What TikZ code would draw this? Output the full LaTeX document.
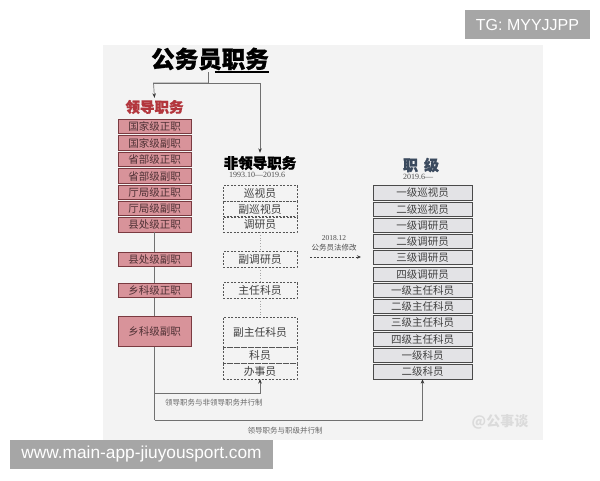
\documentclass[tikz,border=0pt]{standalone}
\usepackage{fontspec}
\newfontfamily\cjk{Noto Sans CJK SC}
\newfontfamily\wmfont{Liberation Sans}
\newfontfamily\dfont{Liberation Serif}
\usetikzlibrary{arrows.meta}
\definecolor{panel}{HTML}{F3F3F3}
\definecolor{redfill}{HTML}{D8939A}
\definecolor{redborder}{HTML}{7A3A40}
\definecolor{redtext}{HTML}{4E3034}
\definecolor{redtitle}{HTML}{B3363D}
\definecolor{slate}{HTML}{3B4A5E}
\definecolor{gfill}{HTML}{E3E3E6}
\definecolor{gborder}{HTML}{4A4A4A}
\definecolor{dashgray}{HTML}{555555}
\definecolor{conn}{HTML}{707070}
\definecolor{wmgray}{HTML}{A6A6A6}
\definecolor{smalltext}{HTML}{666666}
\newcommand\heavycjk{\cjk\bfseries\addfontfeatures{FakeBold=1.2}}
\tikzset{
  redbox/.style={draw=redborder, fill=redfill, line width=0.9pt, minimum width=73pt, minimum height=14.3pt, inner sep=0pt, outer sep=0pt, text=redtext, font=\cjk\fontsize{10.5}{12}\selectfont},
  dbox/.style={draw=dashgray, dash pattern=on 2pt off 1.5pt, line width=0.7pt, minimum width=74pt, minimum height=15.5pt, inner sep=0pt, outer sep=0pt, text=black!75, font=\cjk\fontsize{10.8}{12}\selectfont},
  gbox/.style={draw=gborder, fill=gfill, line width=1pt, minimum width=99pt, minimum height=14.3pt, inner sep=0pt, outer sep=0pt, text=black!75, font=\cjk\fontsize{10.5}{12}\selectfont},
  connline/.style={draw=conn, line width=0.7pt},
  arr/.style={connline, -{Stealth[length=4.5pt,width=3.5pt,color=black!80]}},
  dotline/.style={draw=black!35, dotted, line width=0.7pt},
  small/.style={text=smalltext, font=\cjk\fontsize{7.5}{9}\selectfont, inner sep=0pt},
  datet/.style={text=black!70, font=\dfont\fontsize{8}{9}\selectfont, inner sep=0pt},
  wmbox/.style={fill=wmgray, text=white, inner sep=0pt, font=\wmfont},
}
\begin{document}
\begin{tikzpicture}[x=1pt,y=-1pt]
\useasboundingbox (0,0) rectangle (600,480);
\fill[white] (0,0) rectangle (600,480);
\fill[panel] (103,45) rectangle (543,440);

% title
\node[inner sep=0pt, font=\heavycjk\fontsize{23.5}{26}\selectfont] (title) at (210,59) {公务员职务};
\draw[line width=1.6pt] ([xshift=-54pt,yshift=-1.5pt]title.south east) -- ([yshift=-1.5pt]title.south east);
\coordinate (tb) at (208,72);
\coordinate (tj) at (208,83);
\coordinate (tl) at (153.5,83);
\coordinate (tr) at (260,83);

% column titles
\node[inner sep=0pt, text=redtitle, font=\heavycjk\fontsize{14.5}{16}\selectfont] (ld) at (154.5,107) {领导职务};
\node[inner sep=0pt, font=\heavycjk\fontsize{14.5}{16}\selectfont] (fld) at (260,163) {非领导职务};
\node[datet] (d1) at (257,175) {1993.10—2019.6};
\node[inner sep=0pt, text=slate, font=\heavycjk\fontsize{15}{16}\selectfont] (zj) at (421,165) {职\hspace{6pt}级};
\node[datet] (d2) at (418,176.5) {2019.6—};

\draw[connline] (tb) -- (tj);
\draw[connline] (tl) -- (tr);
\draw[arr] (tj) -- (tl) -- ([yshift=2pt]ld.north);
\draw[arr] (tr) -- ([yshift=3pt]fld.north);

% leadership boxes
\node[redbox] (r7) at (154.5,225) {县处级正职};
\coordinate (lb1) at (154.5,393);
\coordinate (lb2) at (154.5,420);
\draw[connline] (r7.south) -- (lb2);

\node[redbox] (r1) at (154.5,126.5) {国家级正职};
\node[redbox] (r2) at (154.5,143) {国家级副职};
\node[redbox] (r3) at (154.5,159.5) {省部级正职};
\node[redbox] (r4) at (154.5,176) {省部级副职};
\node[redbox] (r5) at (154.5,192.3) {厅局级正职};
\node[redbox] (r6) at (154.5,208.7) {厅局级副职};
\node[redbox] (r8) at (154.5,259.3) {县处级副职};
\node[redbox] (r9) at (154.5,290.3) {乡科级正职};
\node[redbox, minimum height=30.5pt] (r10) at (154.5,331.5) {乡科级副职};

% non-leadership boxes
\node[dbox] (n1) at (260,193.4) {巡视员};
\node[dbox] (n2) at (260,209) {副巡视员};
\node[dbox] (n3) at (260,224.6) {调研员};
\node[dbox] (n4) at (260,259.5) {副调研员};
\node[dbox] (n5) at (260,290.5) {主任科员};
\node[dbox, minimum height=30pt] (n6) at (260,332) {副主任科员};
\node[dbox, minimum height=16pt] (n7) at (260,355) {科员};
\node[dbox, minimum height=16pt] (n8) at (260,371) {办事员};
\draw[dotline] (n3.south) -- (n4.north);
\draw[dotline] (n4.south) -- (n5.north);
\draw[dotline] (n5.south) -- (n6.north);

% rank boxes
\node[gbox] (g1) at (422.5,193) {一级巡视员};
\node[gbox] (g2) at (422.5,209.2) {二级巡视员};
\node[gbox] (g3) at (422.5,225.4) {一级调研员};
\node[gbox] (g4) at (422.5,241.6) {二级调研员};
\node[gbox] (g5) at (422.5,257.8) {三级调研员};
\node[gbox] (g6) at (422.5,274.2) {四级调研员};
\node[gbox] (g7) at (422.5,290.5) {一级主任科员};
\node[gbox] (g8) at (422.5,306.8) {二级主任科员};
\node[gbox] (g9) at (422.5,323) {三级主任科员};
\node[gbox] (g10) at (422.5,339.4) {四级主任科员};
\node[gbox] (g11) at (422.5,355.8) {一级科员};
\node[gbox] (g12) at (422.5,372) {二级科员};

% bottom connectors
\draw[arr] (lb1) -- (lb1 -| n8) -- (n8.south);
\draw[arr] (lb2) -- (lb2 -| g12) -- (g12.south);
\node[small, anchor=west] (c1) at (165,403) {领导职务与非领导职务并行制};
\node[small] (c2) at (285,431) {领导职务与职级并行制};

% 2018 arrow
\coordinate (a1) at (310,257);
\coordinate (a2) at (361,257);
\draw[connline, draw=black!75, dash pattern=on 2pt off 1.5pt, -{Stealth[length=4pt,width=3.5pt]}] (a1) -- (a2);
\node[datet, font=\dfont\fontsize{7.5}{9}\selectfont] (y18) at (334,238) {2018.12};
\node[small, text=black!70] (law) at (334,248) {公务员法修改};

% watermarks
\node[text=black!14, inner sep=0pt, font=\cjk\bfseries\fontsize{14}{16}\selectfont] (wm) at (500,422) {@公事谈};
\node[wmbox, minimum width=125pt, minimum height=29pt, font=\wmfont\fontsize{16}{18}\selectfont] (tg) at (527.5,24.5) {TG: MYYJJPP};
\node[wmbox, minimum width=263pt, minimum height=29pt, font=\wmfont\fontsize{17.3}{19}\selectfont] (url) at (141.5,454.5) {www.main-app-jiuyousport.com};
\end{tikzpicture}
\end{document}
